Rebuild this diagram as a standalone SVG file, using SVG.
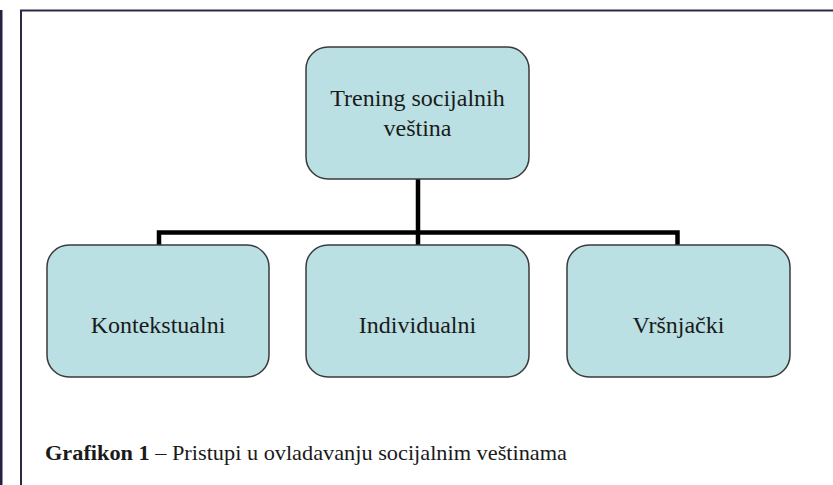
<svg xmlns="http://www.w3.org/2000/svg" width="833" height="485" viewBox="0 0 833 485">
<style>
.box{fill:#bae0e3;stroke:#3a3a3a;stroke-width:1.5}
.lbl{font-family:"Liberation Serif","Times New Roman",serif;font-size:24px;fill:#1a1a1a;text-anchor:middle}
.conn{fill:none;stroke:#000;stroke-width:4.5;stroke-linejoin:miter}
.cap{font-family:"Liberation Serif","Times New Roman",serif;font-size:22px;fill:#1a1a1a}
</style>
<rect width="833" height="485" fill="#fff"/>
<rect x="0" y="10" width="2.5" height="475" fill="#23233f"/>
<path d="M21 485 V10.5 H833" fill="none" stroke="#2a2a48" stroke-width="2"/>
<g id="connectors">
<path class="conn" d="M418 179 V232.5"/>
<path class="conn" d="M159 245 V232.5 H677.5 V245"/>
<path class="conn" d="M418 232.5 V245"/>
</g>
<g id="node-trening">
<rect class="box" x="306" y="47" width="223" height="132" rx="22"/>
<text class="lbl" x="417.5" y="105.5" font-family="Liberation Serif, serif">Trening socijalnih</text>
<text class="lbl" x="417.5" y="135.5" font-family="Liberation Serif, serif">veština</text>
</g>
<g id="node-kontekstualni">
<rect class="box" x="47" y="245" width="222" height="132" rx="22"/>
<text class="lbl" x="158" y="332.5" font-family="Liberation Serif, serif">Kontekstualni</text>
</g>
<g id="node-individualni">
<rect class="box" x="306" y="245" width="223" height="132" rx="22"/>
<text class="lbl" x="417.5" y="332.5" font-family="Liberation Serif, serif">Individualni</text>
</g>
<g id="node-vrsnjacki">
<rect class="box" x="567" y="245" width="223" height="132" rx="22"/>
<text class="lbl" x="678.5" y="332.5" font-family="Liberation Serif, serif">Vršnjački</text>
</g>
<text class="cap" x="45" y="460" textLength="522" lengthAdjust="spacingAndGlyphs"><tspan font-weight="bold">Grafikon 1</tspan> – Pristupi u ovladavanju socijalnim veštinama</text>
</svg>
